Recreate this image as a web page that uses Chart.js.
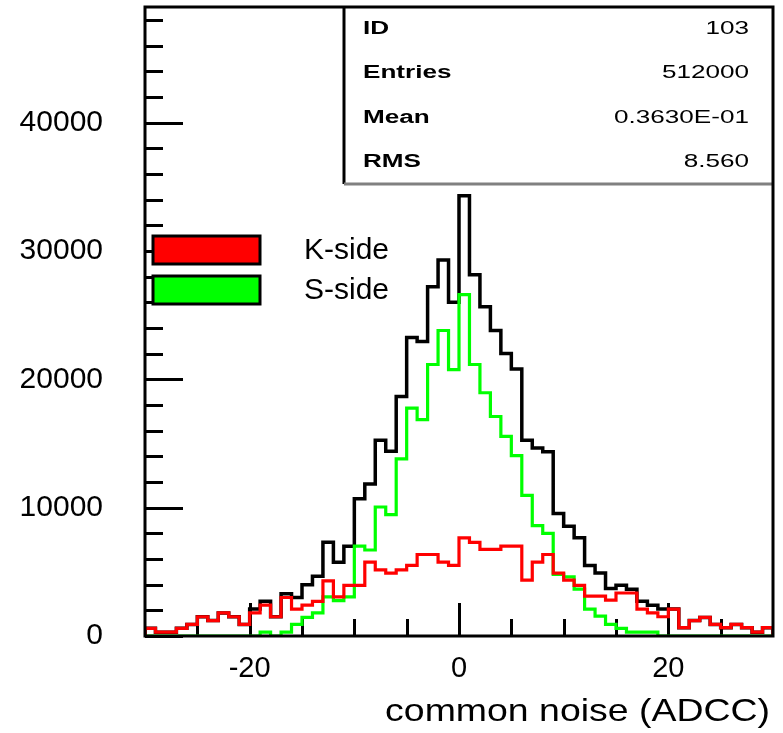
<!DOCTYPE html>
<html>
<head>
<meta charset="utf-8">
<script src="https://cdn.jsdelivr.net/npm/chart.js@4/dist/chart.umd.min.js"></script>
<style>
    html, body { margin: 0; padding: 0; background: #fff; }
    canvas { display: block; }
</style>
</head>
<body>
<canvas id="noise_canvas" width="783" height="733"></canvas>
<script>
// Common mode noise histogram, 60 bins of 1 ADC count from -30 to 30
var bin_low = -30;
var bin_width = 1;

var total_counts = [
    600, 300, 300, 600, 900, 1500, 1200, 1800, 1500, 900,
    2100, 2700, 1500, 3300, 3000, 4000, 4650, 7300, 5750, 7000,
    10700, 11850, 15250, 14400, 18650, 23250, 22950, 27200, 29300, 26000,
    34300, 28150, 25650, 23800, 22000, 20800, 15250, 14650, 14350, 9550,
    8550, 7650, 5500, 4900, 3700, 3950, 3650, 2700, 2400, 2100,
    2100, 650, 1200, 1450, 900, 650, 900, 650, 300, 650
];

var k_side_counts = [
    600, 300, 300, 600, 900, 1500, 1200, 1800, 1500, 900,
    1800, 2400, 1500, 3000, 2100, 2400, 2700, 4300, 3050, 3950,
    3950, 5750, 5150, 4900, 5150, 5500, 6350, 6350, 5750, 5500,
    7650, 7300, 6750, 6750, 7000, 7000, 4350, 5750, 6350, 4900,
    4350, 3950, 3100, 3100, 2800, 3350, 3350, 2100, 1800, 1500,
    2100, 650, 1200, 1450, 900, 650, 900, 650, 300, 650
];

var s_side_counts = [
    0, 0, 0, 0, 0, 0, 0, 0, 0, 0,
    0, 300, 0, 300, 900, 1450, 1800, 3050, 2750, 3050,
    7000, 6700, 10050, 9450, 13800, 17750, 16850, 21150, 23800, 20750,
    26600, 21150, 18950, 17100, 15550, 14050, 10950, 8600, 8000, 4800,
    4600, 3650, 2100, 1550, 900, 600, 300, 300, 300, 0,
    0, 0, 0, 0, 0, 0, 0, 0, 0, 0
];

var y_labels = [0, 10000, 20000, 30000, 40000];
var x_labels = [-20, 0, 20];

var stat_names = ["ID", "Entries", "Mean", "RMS"];
var stat_values = ["103", "512000", "0.3630E-01", "8.560"];

var legend_names = ["K-side", "S-side"];
var legend_colors = ["#ff0000", "#00ff00"];

var x_title = "common noise (ADCC)";

// Histogram outline: one point per bin low edge (step "before" keeps the value up to the next edge)
function step_points (counts) {
    var high = bin_low + counts.length * bin_width;
    var points = [{"x": bin_low, "y": 0}];

    for (var i = 0; i < counts.length; i++) {
        points.push({"x": bin_low + i * bin_width, "y": counts[i]});
    }

    points.push({"x": high, "y": 0});

    return points;
}

function fixed_ticks (values) {
    return function (scale) {
        scale.ticks = values.map(function (v) {
            return {"value": v};
        });
    };
}

function draw_text (ctx, text, x, y, size, align, stretch, bold) {
    ctx.save();
    ctx.font = (bold ? "bold " : "") + size + "px 'Liberation Sans'";
    ctx.fillStyle = "#000";
    ctx.textBaseline = "middle";
    ctx.textAlign = align;
    ctx.translate(x, y);
    ctx.scale(stretch, 1);
    ctx.fillText(text, 0, 0);
    ctx.restore();
}

// PAW style frame: inward ticks, box around the plot, stats box, legend and axis title
var paw_frame = {
    id: "paw_frame",

    beforeDatasetsDraw: function (chart) {
        var ctx = chart.ctx;
        var area = chart.chartArea;
        var x_scale = chart.scales.x;
        var y_scale = chart.scales.y;

        ctx.save();
        ctx.strokeStyle = "#000";
        ctx.lineWidth = 3;

        // minor ticks every 2000 counts, long ones on the labelled values
        for (var v = 0; v <= y_scale.max; v += 2000) {
            var py = Math.round(y_scale.getPixelForValue(v)) + 0.5;
            var len = (v % 10000 === 0) ? 38 : 18;

            ctx.beginPath();
            ctx.moveTo(area.left, py);
            ctx.lineTo(area.left + len, py);
            ctx.stroke();
        }

        for (var t = x_scale.min + 5; t < x_scale.max; t += 5) {
            var px = Math.round(x_scale.getPixelForValue(t)) + 0.5;
            var tlen = (t % 20 === 0) ? 33 : 17;

            ctx.beginPath();
            ctx.moveTo(px, area.bottom);
            ctx.lineTo(px, area.bottom - tlen);
            ctx.stroke();
        }

        ctx.restore();
    },

    afterDatasetsDraw: function (chart) {
        var ctx = chart.ctx;
        var area = chart.chartArea;

        ctx.save();
        ctx.strokeStyle = "#000";
        ctx.lineWidth = 3;

        // Stats box in the top right corner
        var box_left = area.left + 199;
        var box_bottom = area.top + 177;

        ctx.fillStyle = "#fff";
        ctx.fillRect(box_left, area.top, area.right - box_left, box_bottom - area.top);

        ctx.beginPath();
        ctx.moveTo(box_left, area.top);
        ctx.lineTo(box_left, box_bottom);
        ctx.stroke();

        ctx.strokeStyle = "#808080";
        ctx.beginPath();
        ctx.moveTo(box_left, box_bottom);
        ctx.lineTo(area.right, box_bottom);
        ctx.stroke();

        ctx.strokeStyle = "#000";
        ctx.strokeRect(area.left, area.top, area.right - area.left, area.bottom - area.top);

        for (var i = 0; i < stat_names.length; i++) {
            var row_y = area.top + 22 + i * 44.3;

            draw_text(ctx, stat_names[i], box_left + 19, row_y, 18, "left", 1.45, true);
            draw_text(ctx, stat_values[i], area.right - 24, row_y, 18, "right", 1.45, false);
        }

        // Legend boxes with labels
        for (var j = 0; j < legend_names.length; j++) {
            var top = area.top + 229 + j * 40;

            ctx.fillStyle = legend_colors[j];
            ctx.fillRect(area.left + 8, top, 107, 28);
            ctx.strokeStyle = "#000";
            ctx.strokeRect(area.left + 8, top, 107, 28);

            draw_text(ctx, legend_names[j], area.left + 159, top + 15, 30, "left", 1, false);
        }

        draw_text(ctx, x_title, area.right - 3, 712, 32, "right", 1.17, false);

        ctx.restore();
    }
};

function series (label, counts, color, width, order) {
    return {
        "label": label,
        "data": step_points(counts),
        "borderColor": color,
        "borderWidth": width,
        "stepped": "before",
        "fill": false,
        "pointRadius": 0,
        "tension": 0,
        "borderJoinStyle": "miter",
        "borderCapStyle": "butt",
        "order": order
    };
}

new Chart(document.getElementById("noise_canvas").getContext("2d"), {
    "type": "line",
    "data": {
        "datasets": [
            series("total", total_counts, "#000000", 3.5, 3),
            series(legend_names[1], s_side_counts, "#00ff00", 3.2, 2),
            series(legend_names[0], k_side_counts, "#ff0000", 3.2, 1)
        ]
    },
    "options": {
        "responsive": false,
        "animation": false,
        "devicePixelRatio": 1,
        "layout": {
            "padding": {"left": 0, "right": 10, "top": 7, "bottom": 0}
        },
        "scales": {
            "x": {
                "type": "linear",
                "min": -30,
                "max": 30,
                "afterBuildTicks": fixed_ticks(x_labels),
                "afterFit": function (scale) {
                    scale.height = 97;
                    scale.paddingLeft = 0;
                    scale.paddingRight = 0;
                },
                "grid": {"display": false, "drawTicks": false},
                "border": {"display": false},
                "ticks": {
                    "autoSkip": false,
                    "maxRotation": 0,
                    "padding": 16,
                    "color": "#000",
                    "font": {"family": "Liberation Sans", "size": 29},
                    "callback": function (v) {
                        return String(v);
                    }
                }
            },
            "y": {
                "min": 0,
                "max": 49000,
                "afterBuildTicks": fixed_ticks(y_labels),
                "afterFit": function (scale) {
                    scale.width = 145;
                    scale.paddingTop = 0;
                    scale.paddingBottom = 0;
                },
                "grid": {"display": false, "drawTicks": false},
                "border": {"display": false},
                "ticks": {
                    "autoSkip": false,
                    "padding": 42,
                    "color": "#000",
                    "font": {"family": "Liberation Sans", "size": 30},
                    "callback": function (v) {
                        return String(v);
                    }
                }
            }
        },
        "plugins": {
            "legend": {"display": false},
            "tooltip": {"enabled": false},
            "title": {"display": false}
        }
    },
    "plugins": [paw_frame]
});
</script>
</body>
</html>
